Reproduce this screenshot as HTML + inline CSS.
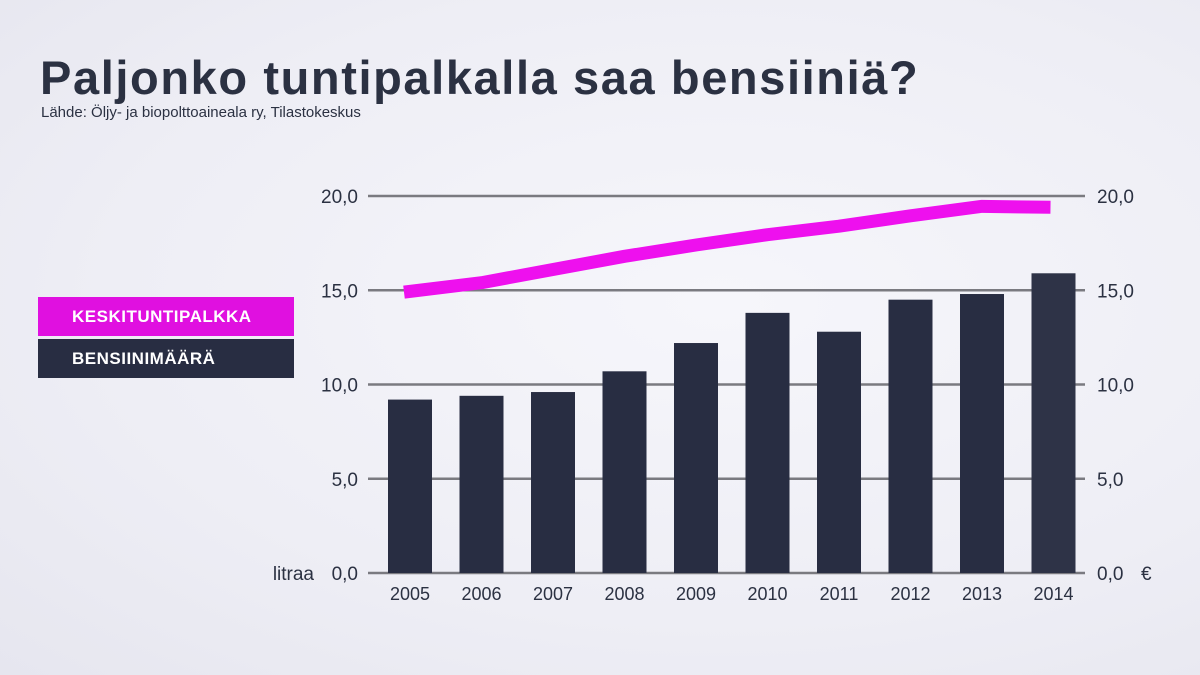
<!DOCTYPE html>
<html><head><meta charset="utf-8">
<style>
html,body{margin:0;padding:0;}
body{width:1200px;height:675px;overflow:hidden;background:radial-gradient(ellipse at 60% 45%,#f6f6fb 0%,#eeeef5 60%,#e6e6ef 100%);font-family:"Liberation Sans",sans-serif;position:relative;}
#title{position:absolute;left:40px;top:50px;font-size:47px;font-weight:bold;color:#2b3142;margin:0;letter-spacing:1.6px}
#source{position:absolute;left:41px;top:104px;font-size:15px;color:#2b3142}
.leg{position:absolute;left:38px;width:256px;height:39px;color:#fff;font-weight:bold;font-size:17px;line-height:39px;box-sizing:border-box;padding-left:34px;letter-spacing:0.5px}
svg{position:absolute;left:0;top:0}
</style></head><body>
<h1 id="title">Paljonko tuntipalkalla saa bensiiniä?</h1>
<div id="source">Lähde: Öljy- ja biopolttoaineala ry, Tilastokeskus</div>
<div class="leg" style="top:297px;background:#e010e0">KESKITUNTIPALKKA</div>
<div class="leg" style="top:339px;background:#282d42">BENSIINIMÄÄRÄ</div>
<svg id="chart" width="1200" height="675"></svg>
<script>
const years=["2005","2006","2007","2008","2009","2010","2011","2012","2013","2014"];
const litres=[9.2,9.4,9.6,10.7,12.2,13.8,12.8,14.5,14.8,15.9];
const wage=[14.9,15.4,16.1,16.8,17.4,17.95,18.4,18.95,19.45,19.4];
const ticks=[0,5,10,15,20];
const tickLabels=["0,0","5,0","10,0","15,0","20,0"];
const NS="http://www.w3.org/2000/svg";
const svg=document.getElementById("chart");
const y0=573,y20=196,xL=368,xR=1085;
function y(v){return y0-(y0-y20)*v/20;}
function x(i){return 410+i*71.5;}
function mk(t,a){const e=document.createElementNS(NS,t);for(const k in a)e.setAttribute(k,a[k]);svg.appendChild(e);return e;}
ticks.forEach((t,i)=>{
  const l=mk("line",{x1:xL,x2:xR,y1:y(t),y2:y(t),stroke:"#7a7a80","stroke-width":2.5});
  
  
  const a=mk("text",{x:358,y:y(t)+7,"text-anchor":"end","font-size":19,fill:"#2b3142","font-family":"Liberation Sans, sans-serif"});
  a.textContent=tickLabels[i];
  
  
  const b=mk("text",{x:1097,y:y(t)+7,"font-size":19,fill:"#2b3142","font-family":"Liberation Sans, sans-serif"});
  b.textContent=tickLabels[i];
  
  
});
const u1=mk("text",{x:314,y:y0+7,"text-anchor":"end","font-size":19,fill:"#2b3142","font-family":"Liberation Sans, sans-serif"});
u1.textContent="litraa";


const u2=mk("text",{x:1141,y:y0+7,"font-size":19,fill:"#2b3142","font-family":"Liberation Sans, sans-serif"});
u2.textContent="€";


litres.forEach((v,i)=>{
  const r=mk("rect",{x:x(i)-22,y:y(v),width:44,height:y0-y(v),fill:i==9?"#2e3347":"#282d42"});
  
  
  const t=mk("text",{x:x(i),y:600,"text-anchor":"middle","font-size":18,fill:"#2b3142","font-family":"Liberation Sans, sans-serif"});
  t.textContent=years[i];
  
  
});
const pts=wage.map((v,i)=>(i==0?x(i)-6:i==9?x(i)-3:x(i))+","+y(v)).join(" ");
const pl=mk("polyline",{points:pts,fill:"none",stroke:"#ee10ee","stroke-width":13,"stroke-linejoin":"round"});


</script>
</body></html>
